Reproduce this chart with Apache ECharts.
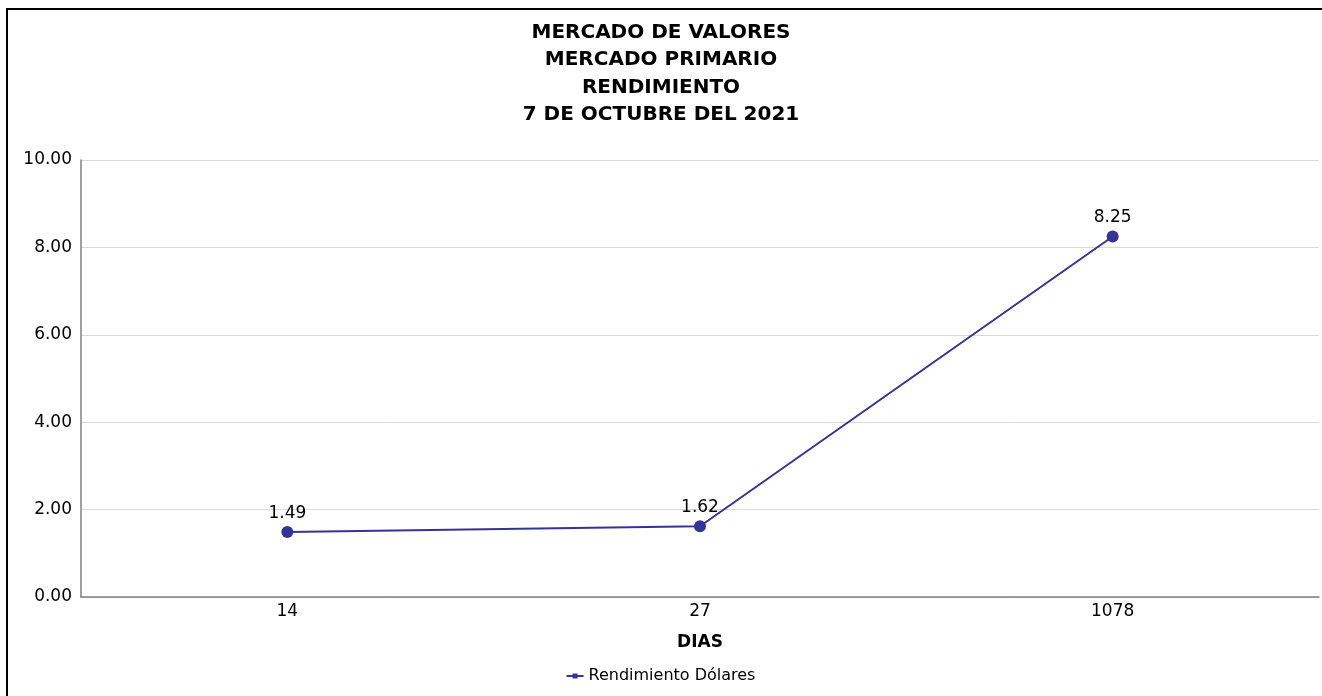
<!DOCTYPE html>
<html>
<head>
<meta charset="utf-8">
<script src="https://cdn.jsdelivr.net/npm/echarts@6/dist/echarts.min.js"></script>
<style>
  html, body { margin: 0; padding: 0; background: #fff; overflow: hidden; }
  #frame {
    position: absolute; left: 6px; top: 8px; width: 1400px; height: 800px;
    border-left: 2px solid #000; border-top: 2px solid #000;
  }
  #chart { position: absolute; left: 0; top: 0; width: 1322px; height: 696px; }
</style>
</head>
<body>
<div id="frame"></div>
<div id="chart"></div>
<script>
// datos
const titleLines = ['MERCADO DE VALORES', 'MERCADO PRIMARIO', 'RENDIMIENTO', '7 DE OCTUBRE DEL 2021']
const dias = ['14', '27', '1078']
const rendimientoDolares = [1.49, 1.62, 8.25]
const seriesName = 'Rendimiento Dólares'

const font = 'Tahoma, "DejaVu Sans", Verdana, sans-serif'
const lineColor = '#333399'

const chart = echarts.init(document.getElementById('chart'))
chart.setOption({
  animation: false,
  textStyle: { fontFamily: font },
  title: {
    text: titleLines.join('\n'),
    left: 'center',
    top: 14,
    textStyle: { fontSize: 20, fontWeight: 'bold', color: '#000', lineHeight: 27.5, fontFamily: font }
  },
  legend: {
    data: [seriesName],
    bottom: 7,
    left: 'center',
    itemWidth: 17,
    itemHeight: 6,
    itemGap: 8,
    icon: 'path://M0,2 L17,2 L17,4 L0,4 Z M6,0.5 L11,0.5 L11,5.5 L6,5.5 Z',
    textStyle: { fontSize: 16, color: '#000', fontFamily: font }
  },
  grid: {
    left: 81,
    right: 3,
    top: 160,
    bottom: 99
  },
  xAxis: {
    type: 'category',
    data: dias,
    name: 'DIAS',
    nameLocation: 'middle',
    nameGap: 37,
    nameTextStyle: { fontSize: 17, fontWeight: 'bold', color: '#000', fontFamily: font },
    axisLine: { lineStyle: { color: '#808080', width: 1.5 } },
    axisTick: { show: false },
    axisLabel: { fontSize: 17, color: '#000', margin: 6, fontFamily: font }
  },
  yAxis: {
    type: 'value',
    min: 0,
    max: 10,
    interval: 2,
    axisLine: { show: true, lineStyle: { color: '#808080', width: 1.5 } },
    axisTick: { show: false },
    axisLabel: {
      fontSize: 17, color: '#000', margin: 9, fontFamily: font,
      formatter: v => v.toFixed(2)
    },
    splitLine: { lineStyle: { color: '#d9d9d9', width: 1 } }
  },
  series: [
    {
      name: seriesName,
      type: 'line',
      data: rendimientoDolares,
      symbol: 'circle',
      symbolSize: 12,
      lineStyle: { color: lineColor, width: 2 },
      itemStyle: { color: lineColor },
      label: {
        show: true,
        position: 'top',
        distance: 4,
        fontSize: 17,
        color: '#000',
        fontFamily: font,
        formatter: p => p.value.toFixed(2)
      }
    }
  ]
})
</script>
</body>
</html>
